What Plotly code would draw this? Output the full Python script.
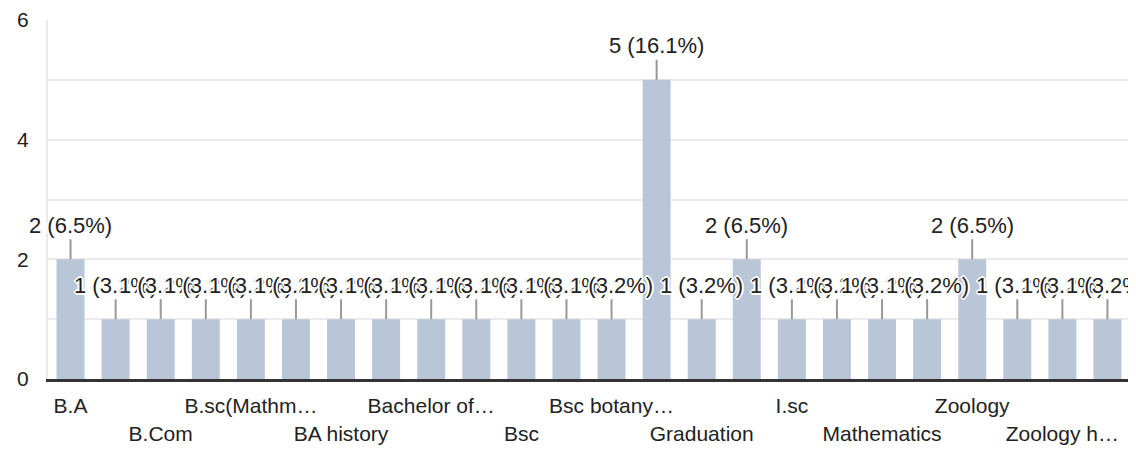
import plotly.graph_objects as go

# ---- data ----
categories = [
    "B.A", "B.A English", "B.Com", "B.Sc", "B.sc(Mathmatics)", "BA",
    "BA history", "BA hons", "Bachelor of Science", "Botany", "Bsc",
    "Bsc Chemistry", "Bsc botany zoology", "Graduate", "Graduation",
    "Honours", "I.sc", "M.Sc", "Mathematics", "Physics", "Zoology",
    "Zoology (H)", "Zoology honours", "Zoology honours 2nd year",
]
counts = [2, 1, 1, 1, 1, 1, 1, 1, 1, 1, 1, 1, 1, 5, 1, 2, 1, 1, 1, 1, 2, 1, 1, 1]

tick_positions = [categories[i] for i in range(0, 24, 2)]
tick_labels = ["B.A", "B.Com", "B.sc(Mathm…", "BA history", "Bachelor of…", "Bsc",
               "Bsc botany…", "Graduation", "I.sc", "Mathematics", "Zoology", "Zoology h…"]
y_ticks = [0, 2, 4, 6]

FONT = "Liberation Sans, Arial, sans-serif"
total = sum(counts)

fig = go.Figure()
fig.add_trace(go.Bar(x=categories, y=counts, marker=dict(color="#b9c6d8", line=dict(width=0)),
                     hoverinfo="skip"))

halo = ("white 2px 0px 0px, white -2px 0px 0px, white 0px 2px 0px, white 0px -2px 0px, "
        "white 1px 1px 0px, white -1px -1px 0px, white 1px -1px 0px, white -1px 1px 0px")
for c, v in zip(categories, counts):
    fig.add_annotation(
        x=c, y=v, xref="x", yref="y",
        text=f"{v} ({v / total * 100:.1f}%)",
        showarrow=True, arrowhead=0, arrowwidth=2, arrowcolor="#999999",
        ax=0, ay=-34, standoff=0,
        font=dict(family=FONT, size=22, color="#222222", shadow=halo),
    )

shown = [("<br>" + t) if i % 2 else t for i, t in enumerate(tick_labels)]

# the page body has an 8px default margin, so the figure is sized to fit inside it
fig.update_layout(
    width=1128, height=443,
    margin=dict(l=40, r=6, t=12, b=72, autoexpand=False),
    paper_bgcolor="white", plot_bgcolor="white",
    showlegend=False, bargap=0.38,
    font=dict(family=FONT, size=21, color="#222222"),
    xaxis=dict(
        range=[-0.5, len(categories) - 0.5], automargin=False,
        tickmode="array", tickvals=tick_positions, ticktext=shown, tickangle=0,
        showline=True, linecolor="#333333", linewidth=3, showgrid=False,
        ticks="", tickfont=dict(size=21, color="#222222"), ticklabelstandoff=6,
    ),
    yaxis=dict(
        range=[0, 6], automargin=False, tickmode="array", tickvals=y_ticks,
        showgrid=True, gridcolor="#ebebeb", gridwidth=2,
        minor=dict(dtick=1, tick0=0, showgrid=True, gridcolor="#ebebeb", gridwidth=2),
        showline=True, mirror=True, linecolor="#ebebeb", linewidth=2,
        zeroline=False, ticks="", tickfont=dict(size=21, color="#222222"),
        ticklabelstandoff=13,
    ),
)

fig.write_html("out.html")
